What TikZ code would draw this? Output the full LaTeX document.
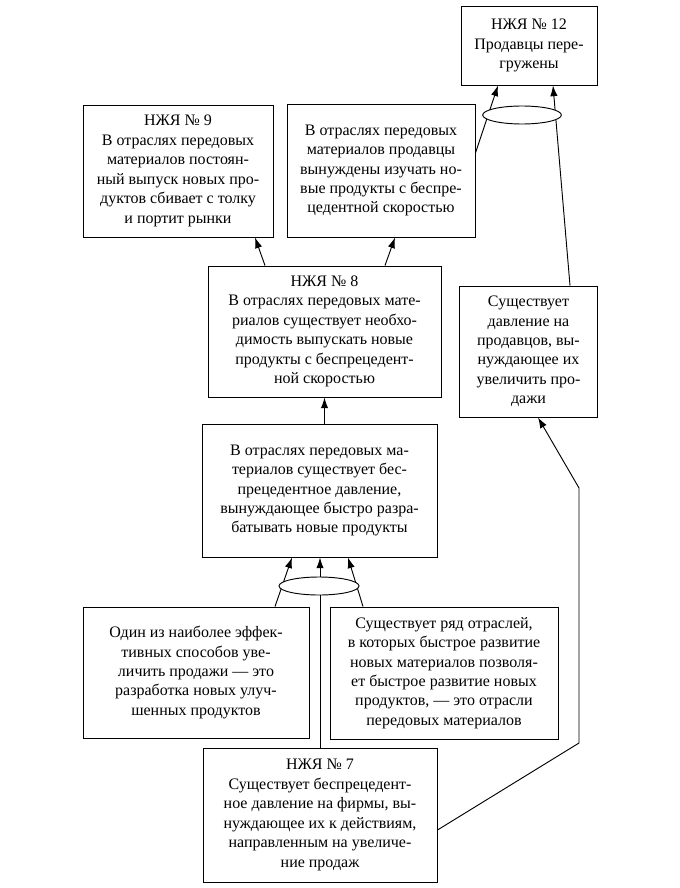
\documentclass[tikz,border=0pt]{standalone}
\usepackage{fontspec}
\setmainfont{Liberation Serif}
\usetikzlibrary{calc,arrows.meta,shapes.geometric}
\tikzset{
  box/.style={draw, line width=0.7pt, align=center, inner sep=0pt, font=\fontsize{12}{14.6}\selectfont},
  arr/.style={line width=0.7pt, -{Latex[length=8pt,width=5.5pt]}},
  joint/.style={draw, ellipse, fill=white, line width=0.7pt, inner sep=0pt}
}
\begin{document}
\begin{tikzpicture}[x=0.75pt,y=-0.75pt]
\useasboundingbox (0,0) rectangle (680,888);
% boxes
\node[box, minimum width=102pt, minimum height=59.25pt] (b12) at (529,45.5)
  {НЖЯ № 12\\Продавцы пере-\\гружены};
\node[box, minimum width=142.5pt, minimum height=99pt] (b9) at (178,171)
  {НЖЯ № 9\\В отраслях передовых\\материалов постоян-\\ный выпуск новых про-\\дуктов сбивает с толку\\и портит рынки};
\node[box, minimum width=141pt, minimum height=99.75pt] (bf) at (381,170.5)
  {В отраслях передовых\\материалов продавцы\\вынуждены изучать но-\\вые продукты с беспре-\\цедентной скоростью};
\node[box, minimum width=174.75pt, minimum height=98.25pt] (b8) at (324.5,331.5)
  {НЖЯ № 8\\В отраслях передовых мате-\\риалов существует необхо-\\димость выпускать новые\\продукты с беспрецедент-\\ной скоростью};
\node[box, minimum width=103.5pt, minimum height=98.25pt] (br) at (528.5,351.5)
  {Существует\\давление на\\продавцов, вы-\\нуждающее их\\увеличить про-\\дажи};
\node[box, minimum width=176.25pt, minimum height=99.75pt] (bm) at (319.5,490.5)
  {В отраслях передовых ма-\\териалов существует бес-\\прецедентное давление,\\вынуждающее быстро разра-\\батывать новые продукты};
\node[box, minimum width=169.5pt, minimum height=98.25pt] (bl) at (196,672.5)
  {Один из наиболее эффек-\\тивных способов уве-\\личить продажи — это\\разработка новых улуч-\\шенных продуктов};
\node[box, minimum width=171pt, minimum height=99pt] (brb) at (444,673)
  {Существует ряд отраслей,\\в которых быстрое развитие\\новых материалов позволя-\\ет быстрое развитие новых\\продуктов, — это отрасли\\передовых материалов};
\node[box, minimum width=175.5pt, minimum height=100.5pt] (b7) at (320,815)
  {НЖЯ № 7\\Существует беспрецедент-\\ное давление на фирмы, вы-\\нуждающее их к действиям,\\направленным на увеличе-\\ние продаж};
% connectors to top row
\draw[arr] ($(b8.north)+(-59.5,0)$) -- ($(b9.south)+(77,0)$);
\draw[arr] ($(b8.north)+(60.5,0)$) -- ($(bf.south)+(14,0)$);
\draw[arr] (bm.north -| b8.south) -- (b8.south);
% into bm
\draw[arr] ($(bl.north)+(79,0)$) -- ($(bm.south)+(-27.5,0)$);
\draw[arr] (b7.north) -- (b7.north |- bm.south);
\draw[arr] ($(brb.north)+(-81,0)$) -- ($(bm.south)+(28.5,0)$);
\node[joint, minimum width=60pt, minimum height=13.5pt] (e1) at (319,586) {};
% into b12
\draw[arr] ($(bf.east)+(0,-17.5)$) -- ($(b12.south)+(-31,0)$);
\draw[arr] ($(br.north)+(41.5,0)$) -- ($(b12.south)+(24,0)$);
\node[joint, minimum width=59pt, minimum height=13.5pt] (e2) at (522,115) {};
% b7 to br
\coordinate (k1) at (579,743);
\coordinate (k2) at (579,488);
\draw[arr] ($(b7.east)+(0,15)$) -- (k1) -- (k2) -- ($(br.south)+(9.5,0)$);
\end{tikzpicture}
\end{document}
